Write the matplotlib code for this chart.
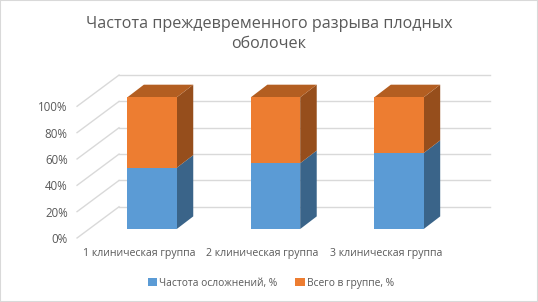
import numpy as np
import matplotlib
matplotlib.use('Agg')
import matplotlib.pyplot as plt
from matplotlib.patches import Rectangle

title = 'Частота преждевременного разрыва плодных\nоболочек'
groups = ['1 клиническая группа', '2 клиническая группа', '3 клиническая группа']
series_names = ['Частота осложнений, %', 'Всего в группе, %']
complications = [46.5, 50.0, 57.7]
group_total = [53.5, 50.0, 42.3]
y_ticks = [0, 20, 40, 60, 80, 100]

GRID = '#d9d9d9'
TEXT = '#595959'
BLUE, BLUE_SIDE = '#5b9bd5', '#3a6489'
ORANGE, ORANGE_SIDE, ORANGE_TOP = '#ed7d31', '#964e1c', '#b35e21'

plt.rcParams['font.family'] = ['Open Sans', 'DejaVu Sans']

fig = plt.figure(figsize=(5.38, 3.02), dpi=100)
ax = fig.add_axes([0, 0, 1, 1])
# axes span the whole picture, x in category units, y in percent
ax.set_xlim(-1.231, 3.126)
ax.set_ylim(-55.4, 173.9)
ax.set_axis_off()

# oblique projection offsets
bar_width = 0.40
depth_x, depth_y = 0.134, 9.6
wall_back_x, wall_front_x, wall_right_x = -0.267, -0.607, 2.737
wall_back_y, wall_front_y = 16.9, -6.8

for v in y_ticks:
    ax.plot([wall_front_x, wall_back_x], [v + wall_front_y, v + wall_back_y], color=GRID, lw=1, zorder=1)
    ax.plot([wall_back_x, wall_right_x], [v + wall_back_y, v + wall_back_y], color=GRID, lw=1, zorder=1)
    ax.text(wall_front_x - 0.075, v + wall_front_y, f'{v}%', ha='right', va='center_baseline',
            fontsize=8.3, color=TEXT)


def side_face(x, bottom, top, color):
    xr = x + bar_width / 2
    ax.fill([xr, xr + depth_x, xr + depth_x, xr],
            [bottom, bottom + depth_y, top + depth_y, top], color=color, lw=0, zorder=2)


x = np.arange(len(groups))
bars_low = ax.bar(x, complications, bar_width, color=BLUE, label=series_names[0], zorder=3)
bars_high = ax.bar(x, group_total, bar_width, bottom=complications, color=ORANGE, label=series_names[1], zorder=3)

for i in x:
    low = complications[i]
    high = low + group_total[i]
    side_face(i, 0, low, BLUE_SIDE)
    side_face(i, low, high, ORANGE_SIDE)
    xl, xr = i - bar_width / 2, i + bar_width / 2
    ax.fill([xl, xr, xr + depth_x, xl + depth_x],
            [high, high, high + depth_y, high + depth_y], color=ORANGE_TOP, lw=0, zorder=2)
    ax.text(i - 0.105, -18.5, groups[i], ha='center', va='center', fontsize=7.6, color=TEXT)

ax.text(0.5, 0.886, title, transform=ax.transAxes, ha='center', va='center',
        fontsize=11.65, color=TEXT, linespacing=1.33)

fig.legend(handles=[bars_low, bars_high], loc='center', bbox_to_anchor=(0.503, 0.062), ncol=2,
           frameon=False, fontsize=7.35, labelcolor=TEXT, handlelength=0.9, handleheight=0.9,
           handletextpad=0.2, columnspacing=1.8)

fig.add_artist(Rectangle((0, 0), 1, 1, transform=fig.transFigure, fill=False, ec=GRID, lw=1.5))

fig.savefig('out.png', dpi=100)
